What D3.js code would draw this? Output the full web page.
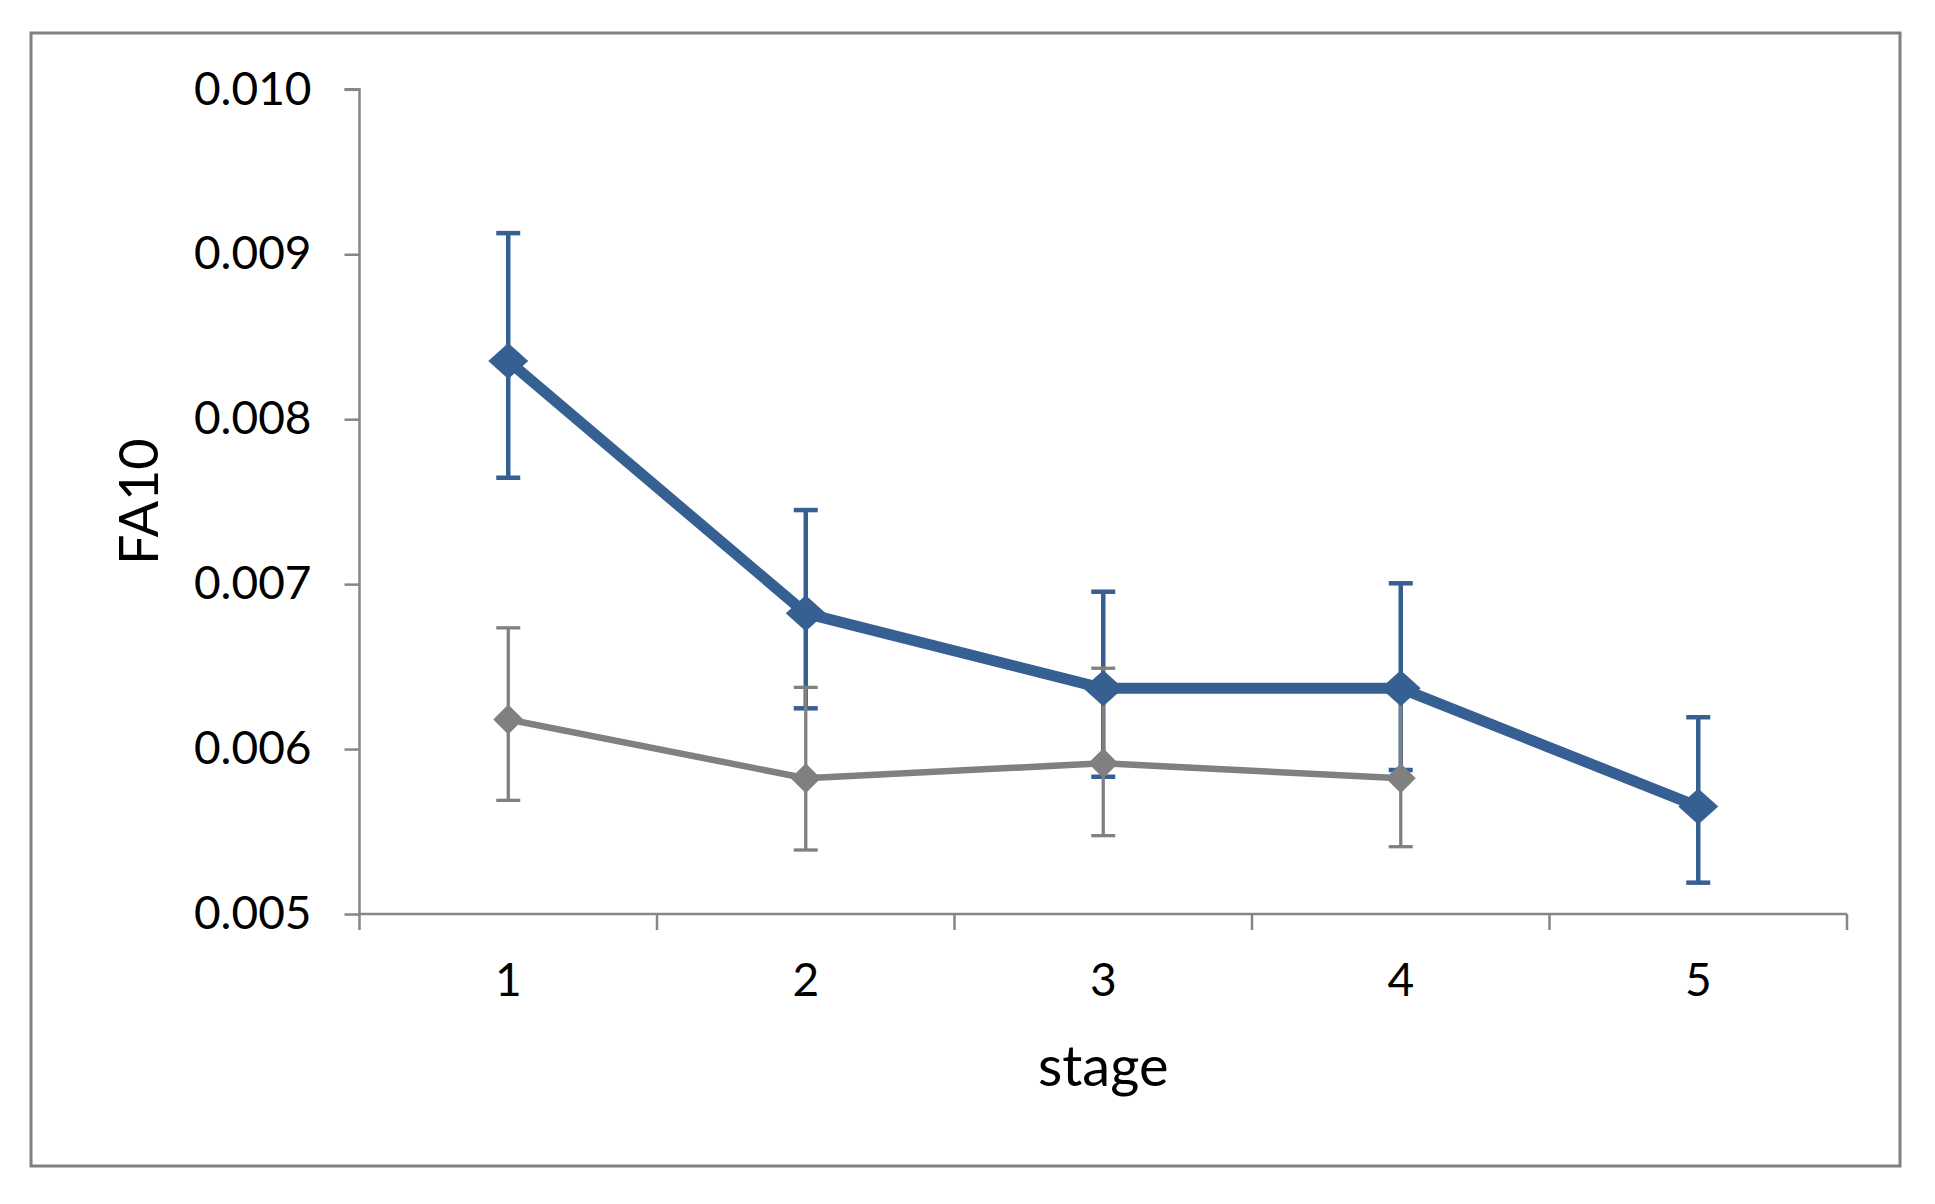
<!DOCTYPE html>
<html><head><meta charset="utf-8">
<script src="https://cdn.jsdelivr.net/npm/d3@7"></script>
<style>body{margin:0;background:#fff;} svg{display:block;}</style>
</head><body>
<svg id="chart" width="1935" height="1204"></svg>
<script>
const categories = ["1","2","3","4","5"];
const seriesBlueMean  = [0.008353, 0.006823, 0.006368, 0.006368, 0.005651];
const seriesBlueUpper = [0.009128, 0.007449, 0.006954, 0.007005, 0.006193];
const seriesBlueLower = [0.007645, 0.006247, 0.005832, 0.005873, 0.005190];
const seriesGrayCats  = ["1","2","3","4"];
const seriesGrayMean  = [0.006179, 0.005823, 0.005914, 0.005823];
const seriesGrayUpper = [0.006735, 0.006374, 0.006490, 0.006380];
const seriesGrayLower = [0.005689, 0.005388, 0.005475, 0.005408];
const yTicks = [0.005, 0.006, 0.007, 0.008, 0.009, 0.010];

const svg = d3.select("#chart");
const font = "Lato, 'Open Sans', sans-serif";
const axisColor = "#868686";
const blue = "#376092";
const gray = "#808080";

// outer frame
svg.append("rect").attr("x",31).attr("y",33).attr("width",1869).attr("height",1133)
  .attr("fill","#fff").attr("stroke","#808080").attr("stroke-width",3);

const x = d3.scaleBand().domain(categories).range([359.5,1847]).padding(0);
const y = d3.scaleLinear().domain([0.005,0.010]).range([914,89.3]);
const cx = c => x(c) + x.bandwidth()/2;

// y axis
const yAxis = d3.axisLeft(y).tickValues(yTicks).tickFormat(d3.format(".3f")).tickSize(15).tickPadding(33);
const gy = svg.append("g").attr("transform","translate(359.5,0)").call(yAxis);
gy.select(".domain").attr("stroke",axisColor).attr("stroke-width",2.5).attr("d",`M-15,${y(0.010)}H0V${y(0.005)}`);
gy.selectAll(".tick line").attr("stroke",axisColor).attr("stroke-width",2.5);
gy.selectAll(".tick text").attr("font-family",font).attr("font-size",46).attr("fill","#000");

// x axis
const xAxis = d3.axisBottom(x).tickSize(0).tickPadding(49);
const gx = svg.append("g").attr("transform",`translate(0,${y(0.005)})`).call(xAxis);
gx.select(".domain").attr("stroke",axisColor).attr("stroke-width",2.5).attr("d",`M359.5,0H1847`);
gx.selectAll(".tick text").attr("font-family",font).attr("font-size",46).attr("fill","#000");
const edges = categories.map(c => x(c)).concat([x(categories[categories.length-1]) + x.bandwidth()]);
gx.selectAll("line.edge").data(edges).enter().append("line").attr("class","edge")
  .attr("x1",d=>d).attr("x2",d=>d).attr("y1",0).attr("y2",16)
  .attr("stroke",axisColor).attr("stroke-width",2.5);

// axis titles
svg.append("text").attr("transform",`translate(158,${(y(0.0075))}) rotate(-90)`)
  .attr("text-anchor","middle").attr("font-family",font).attr("font-size",54).text("FA10");
svg.append("text").attr("x",cx("3")).attr("y",1086)
  .attr("text-anchor","middle").attr("font-family",font).attr("font-size",56).text("stage");

const errLayer = svg.append("g");
const lineLayer = svg.append("g");

function drawErrors(cats, uppers, lowers, color, errW, capW){
  const g = errLayer.append("g");
  cats.forEach((c,i)=>{
    g.append("line").attr("x1",cx(c)).attr("x2",cx(c)).attr("y1",y(uppers[i])).attr("y2",y(lowers[i]))
      .attr("stroke",color).attr("stroke-width",errW);
    [uppers[i], lowers[i]].forEach(v=>{
      g.append("line").attr("x1",cx(c)-capW/2).attr("x2",cx(c)+capW/2).attr("y1",y(v)).attr("y2",y(v))
        .attr("stroke",color).attr("stroke-width",errW);
    });
  });
}
function drawLine(cats, means, color, lineW, mrx, mry){
  const g = lineLayer.append("g");
  const pts = cats.map((c,i)=>({c, m:means[i]}));
  g.append("path").datum(pts).attr("fill","none").attr("stroke",color).attr("stroke-width",lineW)
    .attr("stroke-linejoin","round")
    .attr("d",d3.line().x(p=>cx(p.c)).y(p=>y(p.m)));
  g.selectAll("path.mk").data(pts).enter().append("path").attr("class","mk")
    .attr("d",p=>`M${cx(p.c)},${y(p.m)-mry}L${cx(p.c)+mrx},${y(p.m)}L${cx(p.c)},${y(p.m)+mry}L${cx(p.c)-mrx},${y(p.m)}Z`)
    .attr("fill",color);
}
drawErrors(categories, seriesBlueUpper, seriesBlueLower, blue, 4.5, 24);
drawErrors(seriesGrayCats, seriesGrayUpper, seriesGrayLower, gray, 3.3, 24);
drawLine(seriesGrayCats, seriesGrayMean, gray, 6.5, 15, 15);
drawLine(categories, seriesBlueMean, blue, 11, 20, 18);
</script>
</body></html>
